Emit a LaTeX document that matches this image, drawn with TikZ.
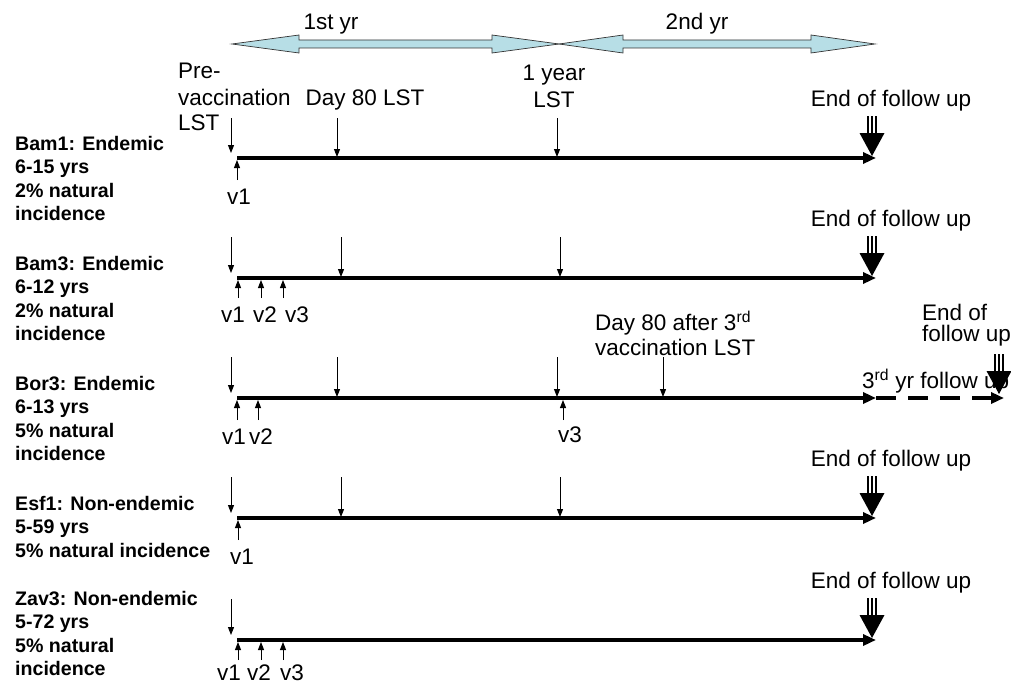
\documentclass[tikz,border=0pt]{standalone}
\usepackage{fontspec}
\setmainfont{Liberation Sans}
\usetikzlibrary{arrows.meta,calc}
\definecolor{pale}{RGB}{183,222,230}
\tikzset{
  rt/.style={font=\fontsize{22.5}{26}\selectfont, inner sep=0pt},
  bl/.style={font=\bfseries\fontsize{19.6}{23.5}\selectfont, inner sep=0pt, anchor=base west},
  tline/.style={line width=3.5pt, -{Triangle[length=13pt,width=11pt]}},
  tdash/.style={line width=3.5pt, dash pattern=on 20pt off 12pt, -{Triangle[length=13pt,width=11pt]}},
  thin/.style={line width=1pt, -{Triangle[length=8pt,width=6pt]}},
  yrarrow/.style={draw=black!80, line width=0.7pt, fill=pale},
  bigdn/.pic={
    \draw[line width=1.1pt] (-4,-40) -- (-4,-22) (0,-40) -- (0,-22) (4,-40) -- (4,-22);
    \fill (-12.5,-23) -- (12.5,-23) -- (0,0) -- cycle;
  }
}
\begin{document}
\begin{tikzpicture}[x=1pt,y=-1pt]
\useasboundingbox (0,0) rectangle (1011,685);

% year arrows
\coordinate (ya) at (232,44); \coordinate (yb) at (559,44); \coordinate (yc) at (875,44);
\path[yrarrow] (ya) -- ++(67,-9) -- ++(0,5) -- ($(yb)+(-67,-4)$) -- ++(0,-5) -- (yb) -- ++(-67,9) -- ++(0,-5) -- ($(ya)+(67,4)$) -- ++(0,5) -- cycle;
\path[yrarrow] (yb) -- ++(64,-9) -- ++(0,5) -- ($(yc)+(-64,-4)$) -- ++(0,-5) -- (yc) -- ++(-64,9) -- ++(0,-5) -- ($(yb)+(64,4)$) -- ++(0,5) -- cycle;
\node[rt, anchor=base] (y1) at (331,30) {1st yr};
\node[rt, anchor=base] (y2) at (697,30) {2nd yr};

% ---------- row 1 ----------
\node[rt, anchor=base west] (pre1) at (178,78) {Pre-};
\node[rt, anchor=base west] (pre2) at (178,105) {vaccination};
\node[rt, anchor=base west] (pre3) at (178,130) {LST};
\node[rt, anchor=base] (d80) at (365,105) {Day 80 LST};
\node[rt, anchor=base] (yr1) at (554,81) {1 year};
\node[rt, anchor=base] (yr2) at (554,107) {LST};
\node[rt, anchor=base] (eo1) at (891,106) {End of follow up};
\node[bl] (a1) at (15,150) {Bam1: Endemic};
\node[bl] (a2) at (15,173.5) {6-15 yrs};
\node[bl] (a3) at (15,197) {2\% natural};
\node[bl] (a4) at (15,220.5) {incidence};
\coordinate (s1) at (237,158); \coordinate (e1) at (876,158);
\draw[tline] (s1) -- (e1);
\coordinate (p1t) at (231,118); \coordinate (p1b) at (231,153);
\draw[thin] (p1t) -- (p1b);
\coordinate (q1t) at (337,118); \coordinate (q1b) at (337,157);
\draw[thin] (q1t) -- (q1b);
\coordinate (r1t) at (557,118); \coordinate (r1b) at (557,157);
\draw[thin] (r1t) -- (r1b);
\coordinate (v11b) at (237,180); \coordinate (v11t) at (237,160);
\draw[thin] (v11b) -- (v11t);
\node[rt, anchor=base] (v11) at (239,204) {v1};
\pic at (872,156) {bigdn};

% ---------- row 2 ----------
\node[rt, anchor=base] (eo2) at (891,226) {End of follow up};
\node[bl] (b1) at (15,270) {Bam3: Endemic};
\node[bl] (b2) at (15,293.5) {6-12 yrs};
\node[bl] (b3) at (15,317) {2\% natural};
\node[bl] (b4) at (15,340.5) {incidence};
\coordinate (s2) at (237,278); \coordinate (e2) at (876,278);
\draw[tline] (s2) -- (e2);
\coordinate (p2t) at (231,237); \coordinate (p2b) at (231,273);
\draw[thin] (p2t) -- (p2b);
\coordinate (q2t) at (341,237); \coordinate (q2b) at (341,277);
\draw[thin] (q2t) -- (q2b);
\coordinate (r2t) at (560,237); \coordinate (r2b) at (560,277);
\draw[thin] (r2t) -- (r2b);
\foreach \x/\n in {238/1,261/2,283/3}{
  \coordinate (v2\n b) at (\x,298); \coordinate (v2\n t) at (\x,280);
  \draw[thin] (v2\n b) -- (v2\n t);
}
\node[rt, anchor=base] (v21) at (233,322) {v1};
\node[rt, anchor=base] (v22) at (265,322) {v2};
\node[rt, anchor=base] (v23) at (297,322) {v3};
\pic at (872,276) {bigdn};

% ---------- row 3 ----------
\node[rt, anchor=base west] (d3a) at (595,330) {Day 80 after 3\textsuperscript{rd}};
\node[rt, anchor=base west] (d3b) at (595,355) {vaccination LST};
\node[rt, anchor=base west] (eo3a) at (922,320) {End of};
\node[rt, anchor=base west] (eo3b) at (922,341) {follow up};
\node[bl] (c1) at (15,390) {Bor3: Endemic};
\node[bl] (c2) at (15,413.5) {6-13 yrs};
\node[bl] (c3) at (15,437) {5\% natural};
\node[bl] (c4) at (15,460.5) {incidence};
\coordinate (s3) at (237,398); \coordinate (e3) at (876,398); \coordinate (f3) at (1004,398);
\draw[tline] (s3) -- (e3);
\draw[tdash] (e3) -- (f3);
\node[rt, anchor=base west] (third) at (862,388) {3\textsuperscript{rd} yr follow up};
\coordinate (p3t) at (231,357); \coordinate (p3b) at (231,393);
\draw[thin] (p3t) -- (p3b);
\coordinate (q3t) at (337,357); \coordinate (q3b) at (337,397);
\draw[thin] (q3t) -- (q3b);
\coordinate (r3t) at (557,357); \coordinate (r3b) at (557,397);
\draw[thin] (r3t) -- (r3b);
\coordinate (w3t) at (663,357); \coordinate (w3b) at (663,397);
\draw[thin] (w3t) -- (w3b);
\foreach \x/\n in {237/1,258/2,563/3}{
  \coordinate (v3\n b) at (\x,420); \coordinate (v3\n t) at (\x,400);
  \draw[thin] (v3\n b) -- (v3\n t);
}
\node[rt, anchor=base] (v31) at (234,444) {v1};
\node[rt, anchor=base] (v32) at (261,444) {v2};
\node[rt, anchor=base] (v33) at (570,442) {v3};
\pic at (999,394) {bigdn};

% ---------- row 4 ----------
\node[rt, anchor=base] (eo4) at (891,466) {End of follow up};
\node[bl] (d1) at (15,510) {Esf1: Non-endemic};
\node[bl] (d2) at (15,533.5) {5-59 yrs};
\node[bl] (d3) at (15,557) {5\% natural incidence};
\coordinate (s4) at (237,518); \coordinate (e4) at (876,518);
\draw[tline] (s4) -- (e4);
\coordinate (p4t) at (231,477); \coordinate (p4b) at (231,513);
\draw[thin] (p4t) -- (p4b);
\coordinate (q4t) at (341,477); \coordinate (q4b) at (341,517);
\draw[thin] (q4t) -- (q4b);
\coordinate (r4t) at (560,477); \coordinate (r4b) at (560,517);
\draw[thin] (r4t) -- (r4b);
\coordinate (v41b) at (238,540); \coordinate (v41t) at (238,520);
\draw[thin] (v41b) -- (v41t);
\node[rt, anchor=base] (v41) at (242,564) {v1};
\pic at (872,516) {bigdn};

% ---------- row 5 ----------
\node[rt, anchor=base] (eo5) at (891,588) {End of follow up};
\node[bl] (e1a) at (15,605) {Zav3: Non-endemic};
\node[bl] (e2a) at (15,628.5) {5-72 yrs};
\node[bl] (e3a) at (15,652) {5\% natural};
\node[bl] (e4a) at (15,675.5) {incidence};
\coordinate (s5) at (237,640); \coordinate (e5) at (876,640);
\draw[tline] (s5) -- (e5);
\coordinate (p5t) at (231,599); \coordinate (p5b) at (231,635);
\draw[thin] (p5t) -- (p5b);
\foreach \x/\n in {238/1,261/2,283/3}{
  \coordinate (v5\n b) at (\x,660); \coordinate (v5\n t) at (\x,642);
  \draw[thin] (v5\n b) -- (v5\n t);
}
\node[rt, anchor=base] (v51) at (229,680) {v1};
\node[rt, anchor=base] (v52) at (259,680) {v2};
\node[rt, anchor=base] (v53) at (292,680) {v3};
\pic at (872,638) {bigdn};
\end{tikzpicture}
\end{document}
